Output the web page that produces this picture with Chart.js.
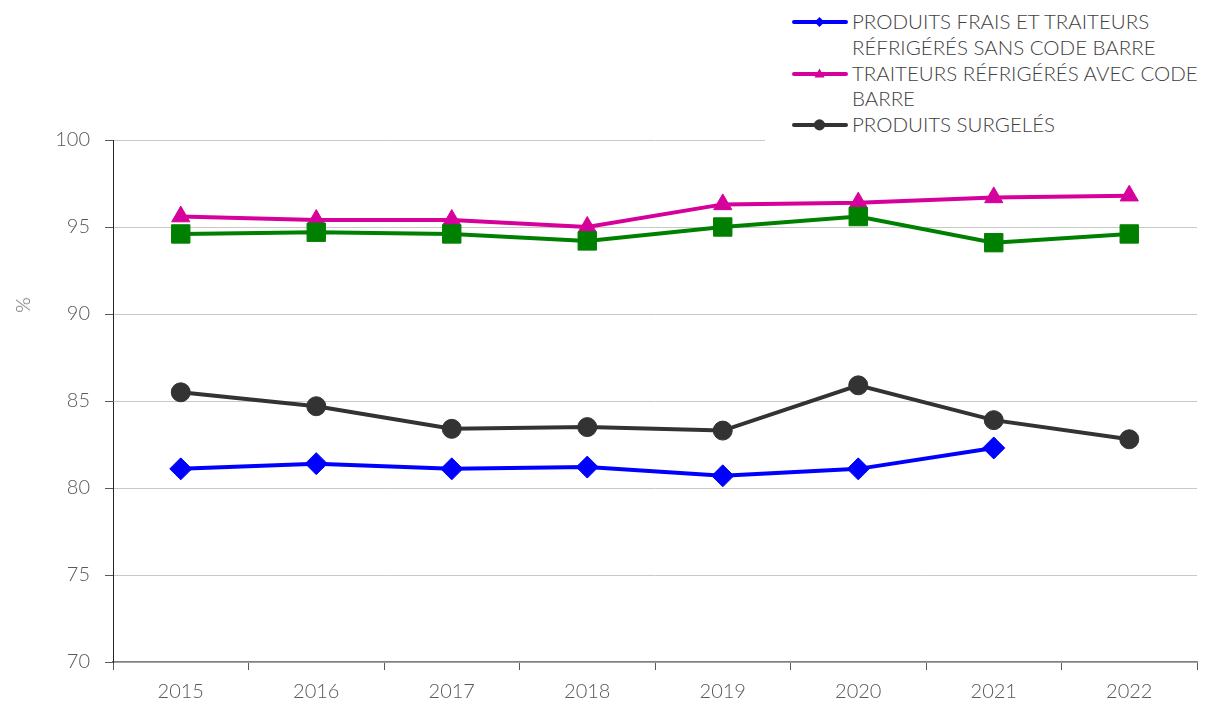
<!DOCTYPE html>
<html>
<head>
<meta charset="utf-8">
<script src="https://cdn.jsdelivr.net/npm/chart.js@4"></script>
<style>
  html, body { margin: 0; padding: 0; background: #fff; }
  #wrap { position: relative; width: 1215px; height: 706px; font-family: Lato, "Open Sans", sans-serif; font-weight: 300; }
  #c { position: absolute; left: 0; top: 0; }
  #legend { position: absolute; left: 765px; top: 0; width: 450px; height: 143px; background: #fff; }
  .item { position: relative; }
  .item svg { position: absolute; left: 27px; top: 0; }
  .item .txt { position: absolute; left: 87px; top: 0; color: #404040; font-size: 20.5px; line-height: 25.8px; white-space: nowrap; }
  #ytitle { position: absolute; left: 22px; top: 305px; transform: translate(-50%, -50%) rotate(-90deg); color: #595959; font-size: 20px; }
</style>
</head>
<body>
<div id="wrap">
  <canvas id="c" width="1215" height="706"></canvas>
  <div id="legend"></div>
  <div id="ytitle">%</div>
</div>
<script>
const years = ["2015", "2016", "2017", "2018", "2019", "2020", "2021", "2022"];
const yTicks = [70, 75, 80, 85, 90, 95, 100];
const yTitle = "%";

const fraisLabel = ["PRODUITS FRAIS ET TRAITEURS", "RÉFRIGÉRÉS SANS CODE BARRE"];
const fraisValues = [81.1, 81.4, 81.1, 81.2, 80.7, 81.1, 82.3, null];

const traiteursLabel = ["TRAITEURS RÉFRIGÉRÉS AVEC CODE", "BARRE"];
const traiteursValues = [95.6, 95.4, 95.4, 95.0, 96.3, 96.4, 96.7, 96.8];

const surgelesLabel = ["PRODUITS SURGELÉS"];
const surgelesValues = [85.5, 84.7, 83.4, 83.5, 83.3, 85.9, 83.9, 82.8];

const totalLabel = ["ENSEMBLE"];
const totalValues = [94.6, 94.7, 94.6, 94.2, 95.0, 95.6, 94.1, 94.6];

document.getElementById('ytitle').textContent = yTitle;

const tickFont = { family: 'Lato, "Open Sans", sans-serif', size: 20, weight: '300' };

const datasets = [
  { label: totalLabel.join(' '), lines: totalLabel, data: totalValues, borderColor: '#008000', backgroundColor: '#008000',
    pointStyle: 'rect', pointRadius: 13, pointHoverRadius: 13, inLegend: false },
  { label: fraisLabel.join(' '), lines: fraisLabel, data: fraisValues, borderColor: '#0000FF', backgroundColor: '#0000FF',
    pointStyle: 'rectRot', pointRadius: 11, pointHoverRadius: 11, inLegend: true },
  { label: traiteursLabel.join(' '), lines: traiteursLabel, data: traiteursValues, borderColor: '#D6009A', backgroundColor: '#D6009A',
    pointStyle: 'triangle', pointRadius: 10.5, pointHoverRadius: 10.5, inLegend: true },
  { label: surgelesLabel.join(' '), lines: surgelesLabel, data: surgelesValues, borderColor: '#333333', backgroundColor: '#333333',
    pointStyle: 'circle', pointRadius: 9.5, pointHoverRadius: 9.5, inLegend: true }
].map(d => Object.assign({ borderWidth: 4, pointBorderWidth: 1, tension: 0, spanGaps: false }, d));

const chart = new Chart(document.getElementById('c'), {
  type: 'line',
  data: { labels: years, datasets: datasets },
  options: {
    responsive: false,
    animation: false,
    events: [],
    layout: { padding: { left: 0, right: 18, top: 140, bottom: 0 } },
    plugins: { legend: { display: false }, tooltip: { enabled: false } },
    scales: {
      x: {
        type: 'category',
        offset: true,
        grid: { offset: true, drawOnChartArea: false, drawTicks: true, tickLength: 8, tickColor: '#595959', tickWidth: 1 },
        border: { display: true, color: '#7f7f7f', width: 1.5 },
        ticks: { color: '#595959', font: tickFont, padding: 10, maxRotation: 0 },
        afterFit: s => { s.height = 44; }
      },
      y: {
        min: 70, max: 100,
        afterBuildTicks: s => { s.ticks = yTicks.map(v => ({ value: v })); },
        grid: { color: '#c8c8c8', lineWidth: 1, tickLength: 8, tickColor: '#595959' },
        border: { display: true, color: '#262626', width: 1 },
        ticks: { color: '#595959', font: tickFont, padding: 15 },
        afterFit: s => { s.width = 113; }
      }
    }
  }
});

// HTML legend
const legend = document.getElementById('legend');
let lineIndex = 0;
const LH = 25.8, TOP = 9.1;
datasets.filter(d => d.inLegend).forEach(d => {
  const item = document.createElement('div');
  item.className = 'item';
  item.style.position = 'absolute';
  item.style.left = '0px';
  item.style.top = (TOP + lineIndex * LH) + 'px';
  const c = d.borderColor;
  let marker = '';
  if (d.pointStyle === 'rectRot') marker = `<polygon points="27.5,7.9 32.5,12.9 27.5,17.9 22.5,12.9" fill="${c}"/>`;
  else if (d.pointStyle === 'triangle') marker = `<polygon points="27.5,7.4 32.5,16.4 22.5,16.4" fill="${c}"/>`;
  else if (d.pointStyle === 'circle') marker = `<circle cx="27.5" cy="12.9" r="5.6" fill="${c}"/>`;
  item.innerHTML = `<svg width="56" height="26" viewBox="0 0 56 26"><line x1="2" y1="12.9" x2="54" y2="12.9" stroke="${c}" stroke-width="4" stroke-linecap="round"/>${marker}</svg><div class="txt"></div>`;
  const txt = item.querySelector('.txt');
  d.lines.forEach((l, i) => { if (i) txt.appendChild(document.createElement('br')); txt.appendChild(document.createTextNode(l)); });
  legend.appendChild(item);
  lineIndex += d.lines.length;
});
</script>
</body>
</html>
